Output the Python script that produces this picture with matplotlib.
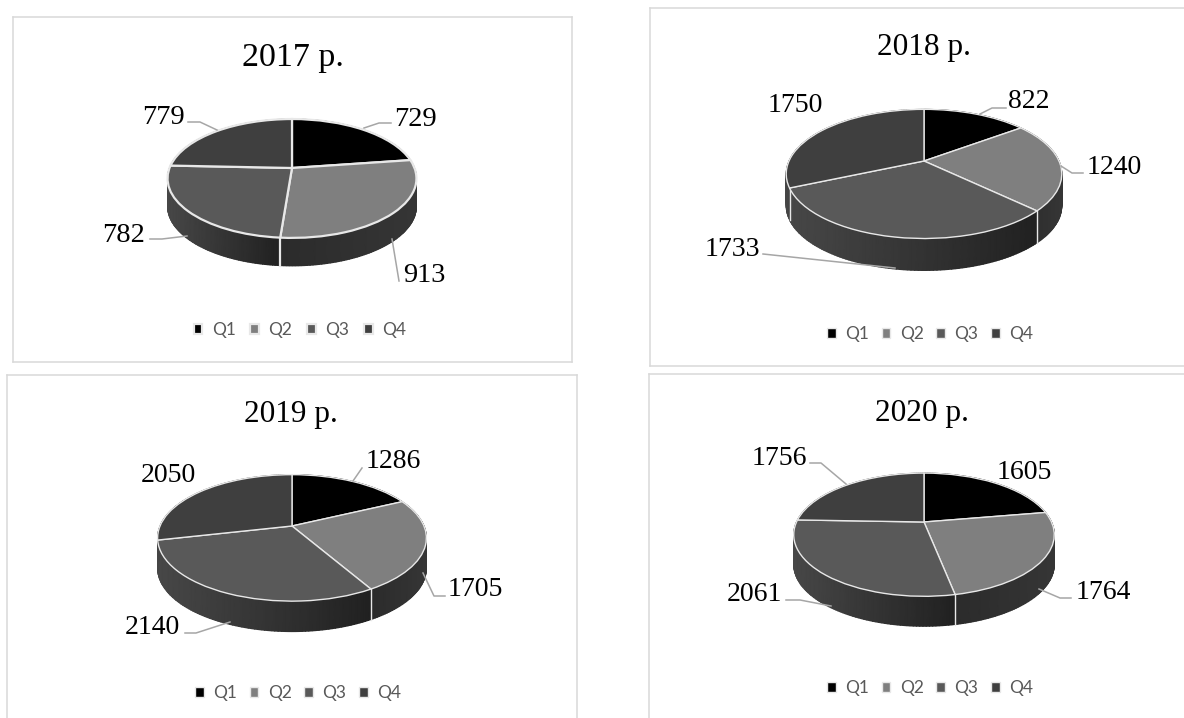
import numpy as np
import matplotlib
matplotlib.use("Agg")
import matplotlib.pyplot as plt
from matplotlib.transforms import Transform

W, H = 1184, 718

quarters = ["Q1", "Q2", "Q3", "Q4"]
titles = ["2017 р.", "2018 р.", "2019 р.", "2020 р."]

sales_2017 = [729, 913, 782, 779]
sales_2018 = [822, 1240, 1733, 1750]
sales_2019 = [1286, 1705, 2140, 2050]
sales_2020 = [1605, 1764, 2061, 1756]

top_colors = ["#000000", "#7f7f7f", "#595959", "#3f3f3f"]
# grey level of the side wall, left end and right end of each slice
wall_grey = [(0.0, 0.0), (0.17, 0.21), (0.28, 0.13), (0.27, 0.2)]

# panel frame, pie geometry, title and legend, everything in pixels
panels = [
    dict(values=sales_2017, box=(13, 17, 572, 362), cx=292, cy=168, rx=122.5, ry=57.6, k=0.176,
         depth=28, title_xy=(293, 66), title_size=24.5, label_size=20.5, legend_y=330, legend_x=300, spacing=0.85, lw=1.6,
         labels=[(415, 116), (424, 272), (124, 232), (163, 114)],
         leaders=[[(364, 128), (379, 123), (391, 123)],
                  [(392, 239), (399, 281)],
                  [(150, 239), (162, 239), (187, 236)],
                  [(188, 122), (200, 122), (217, 130)]]),
    dict(values=sales_2018, box=(650, 8, 1195, 366), cx=924, cy=161, rx=135, ry=62, k=0.2,
         depth=32, title_xy=(924, 55), title_size=22.5, label_size=20, legend_y=334, legend_x=930, spacing=0.72, lw=1.0,
         labels=[(1029, 99), (1114, 164), (732, 246), (795, 103)],
         leaders=[[(980, 114), (992, 108), (1006, 108)],
                  [(1061, 166), (1072, 173), (1083, 173)],
                  [(763, 254), (895, 268)],
                  []]),
    dict(values=sales_2019, box=(7, 375, 577, 735), cx=292, cy=526, rx=132, ry=61, k=0.188,
         depth=30.5, title_xy=(291, 422), title_size=22.5, label_size=20, legend_y=693, legend_x=298, spacing=0.72, lw=1.0,
         labels=[(393, 458), (475, 586), (152, 625), (168, 473)],
         leaders=[[(362, 468), (353, 481)],
                  [(423, 573), (434, 596), (445, 596)],
                  [(185, 633), (196, 633), (230, 622)],
                  []]),
    dict(values=sales_2020, box=(649, 374, 1195, 735), cx=924, cy=522, rx=127.5, ry=59, k=0.206,
         depth=30, title_xy=(922, 421), title_size=22.5, label_size=20, legend_y=688, legend_x=930, spacing=0.72, lw=1.0,
         labels=[(1024, 469), (1103, 589), (754, 591), (779, 455)],
         leaders=[[],
                  [(1039, 589), (1060, 598), (1071, 598)],
                  [(786, 600), (800, 600), (831, 606)],
                  [(810, 463), (821, 463), (846, 484)]]),
]


class Tilt(Transform):
    """Perspective view of the unit disc, far side shrunk, result in pixels."""
    input_dims = 2
    output_dims = 2

    def __init__(self, cx, cy, rx, ry, k):
        super().__init__()
        self.cx, self.cy, self.rx, self.ry, self.k = cx, cy, rx, ry, k

    def transform_non_affine(self, values):
        values = np.asarray(values, dtype=float)
        s = 1.0 / (1.0 + self.k * values[:, 1])
        x = self.cx + self.rx * values[:, 0] * s
        y = self.cy - self.ry * values[:, 1] * s
        return np.column_stack([x, y])


def draw_panel(fig, p, title):
    x0, y0, x1, y1 = p["box"]
    ax = fig.add_axes([x0 / W, 1 - y1 / H, (x1 - x0) / W, (y1 - y0) / H])
    tilt = Tilt(p["cx"], p["cy"], p["rx"], p["ry"], p["k"])

    values = np.array(p["values"], dtype=float)
    edges = np.concatenate([[0], np.cumsum(values) / values.sum()]) * 2 * np.pi

    # side wall first, the top face covers whatever is behind it
    for i in range(4):
        th = np.linspace(edges[i], edges[i + 1], 90)
        xy = tilt.transform_non_affine(np.column_stack([np.sin(th), np.cos(th)]))
        X = np.vstack([xy[:, 0], xy[:, 0]])
        Y = np.vstack([xy[:, 1], xy[:, 1] + p["depth"]])
        t = (xy[:, 0] - xy[:, 0].min()) / np.ptp(xy[:, 0])
        grey = wall_grey[i][0] + (wall_grey[i][1] - wall_grey[i][0]) * t
        ax.pcolormesh(X, Y, np.vstack([grey, grey]), cmap="gray", vmin=0, vmax=1,
                      shading="gouraud", zorder=0.5)

    # white seams on the wall between slices, only where they face the viewer
    for a in edges[1:]:
        if np.cos(a) < -0.3:
            sx, sy = tilt.transform_non_affine(np.array([[np.sin(a), np.cos(a)]]))[0]
            ax.plot([sx, sx], [sy, sy + p["depth"]], color="#e8e8e8", lw=p["lw"], zorder=0.8)

    wedges, _ = ax.pie(values, startangle=90, counterclock=False, colors=top_colors, frame=True,
                       wedgeprops=dict(edgecolor="#e8e8e8", linewidth=p["lw"]))
    for w in wedges:
        w.set_transform(tilt + ax.transData)

    ax.set_aspect("auto")
    ax.set_xlim(x0, x1)
    ax.set_ylim(y1, y0)
    ax.set_xticks([])
    ax.set_yticks([])
    for s in ax.spines.values():
        s.set_color("#d9d9d9")
        s.set_linewidth(1.1)

    ax.text(p["title_xy"][0], p["title_xy"][1], title, ha="center", va="baseline",
            fontsize=p["title_size"], family="Liberation Serif", color="black")

    for v, (lx, ly), line in zip(p["values"], p["labels"], p["leaders"]):
        ax.text(lx, ly, str(v), ha="center", va="center_baseline", fontsize=p["label_size"],
                family="Liberation Serif", color="black", zorder=4)
        if line:
            ax.plot([q[0] for q in line], [q[1] for q in line], color="#a6a6a6", lw=1.1, zorder=3)

    ax.legend(wedges, quarters, ncol=4, loc="center", bbox_to_anchor=(p["legend_x"], p["legend_y"]),
              bbox_transform=ax.transData, frameon=False, handlelength=0.5, handleheight=0.5,
              handletextpad=0.55, columnspacing=p["spacing"],
              prop=dict(family="Lato", size=12.5), labelcolor="#595959", borderpad=0, borderaxespad=0)


fig = plt.figure(figsize=(W / 100, H / 100), dpi=100, facecolor="white")
for panel, name in zip(panels, titles):
    draw_panel(fig, panel, name)
fig.savefig("out.png", dpi=100)
